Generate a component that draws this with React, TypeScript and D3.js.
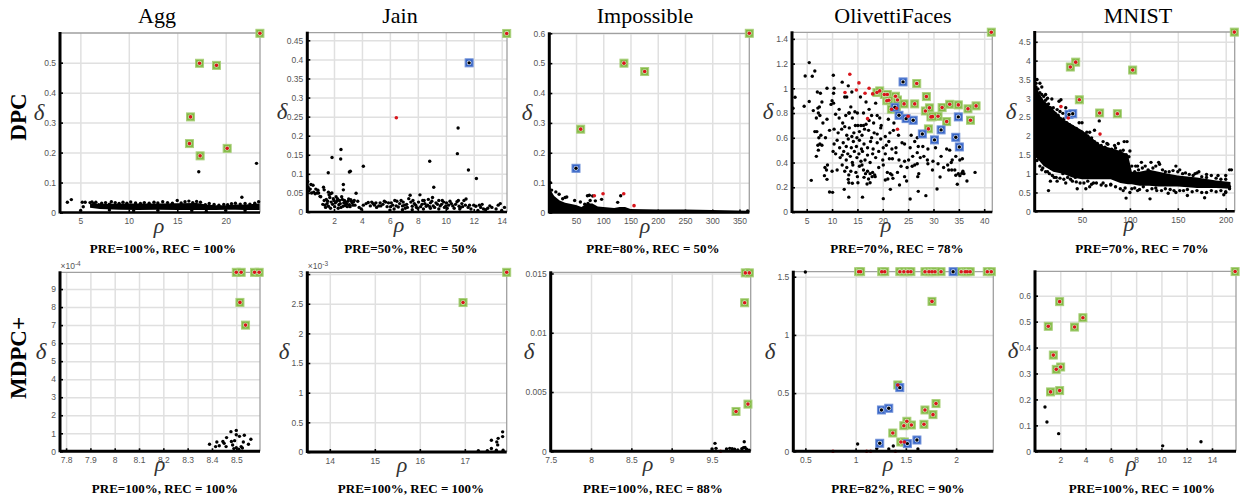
import React, { useEffect, useRef } from 'react';
import * as d3 from 'd3';

type Pt = [number, number];

const titles = ['Agg', 'Jain', 'Impossible', 'OlivettiFaces', 'MNIST'];
const rowLabels = ['DPC', 'MDPC+'];

// --- DPC row ---
const aggDpcGreen: Pt[] = [[23.53, 0.598], [17.3, 0.498], [19.05, 0.491], [16.37, 0.319], [16.26, 0.23], [17.36, 0.189], [20.15, 0.214]];
const aggDpcBlack: Pt[] = [[17.22, 0.136], [23.18, 0.164], [21.67, 0.051], [3.66, 0.034], [4.07, 0.043], [5.03, 0.007], [5.3, 0.019], [5.2, 0.034], [5.5, 0.034], [6, 0.033], [6.2, 0.035], [6.4, 0.03], [6.6, 0.034], [6.9, 0.026], [7.2, 0.031], [7.6, 0.033], [8, 0.028], [8.2, 0.036], [8.6, 0.033], [9, 0.03], [9.4, 0.034], [9.8, 0.031], [10.2, 0.035], [10.7, 0.032], [11.2, 0.03], [11.6, 0.033], [12.1, 0.031], [12.6, 0.034], [13, 0.032], [13.5, 0.036], [14, 0.033], [14.5, 0.031], [15, 0.04], [15.4, 0.032], [15.8, 0.036], [16.2, 0.038], [16.6, 0.033], [17, 0.037], [17.4, 0.034], [17.9, 0.026], [18.3, 0.03], [18.8, 0.027], [19.3, 0.024], [19.8, 0.027], [20.2, 0.026], [20.6, 0.029], [21, 0.031], [21.5, 0.028], [22, 0.03], [22.5, 0.028], [23, 0.031], [23.4, 0.036], [8, 0.008], [10.5, 0.006], [13, 0.007], [16.5, 0.006], [18, 0.004], [20, 0.007], [22, 0.006]];
const aggDpcBandX = [6, 7, 9, 11, 13, 15, 17, 18, 19, 20, 21, 22, 23.5];
const aggDpcBandLow = [0.016, 0.012, 0.009, 0.008, 0.009, 0.008, 0.008, 0.008, 0.008, 0.009, 0.009, 0.008, 0.008];
const aggDpcBandHigh = [0.03, 0.028, 0.03, 0.03, 0.03, 0.031, 0.032, 0.027, 0.024, 0.024, 0.027, 0.027, 0.03];

const jainDpcGreen: Pt[] = [[14.36, 0.468]];
const jainDpcBlue: Pt[] = [[11.67, 0.391]];
const jainDpcRed: Pt[] = [[6.46, 0.247]];
const jainDpcBlack: Pt[] = [[10.88, 0.22], [10.83, 0.153], [11.62, 0.11], [12.19, 0.088], [8.85, 0.133], [9.14, 0.065], [2.5, 0.164], [2.48, 0.139], [1.86, 0.143], [1.59, 0.103], [4.1, 0.12], [3.17, 0.107], [3.1, 0.105], [2.67, 0.072], [2.67, 0.058], [3.58, 0.049],
  [0.12, 0.08], [0.15, 0.065], [0.2, 0.055], [0.3, 0.06], [0.35, 0.072], [0.4, 0.05], [0.5, 0.07], [0.55, 0.052], [0.65, 0.048], [0.7, 0.06], [0.8, 0.05], [0.9, 0.05], [1.0, 0.041], [0.85, 0.057], [1.25, 0.065], [1.3, 0.058], [1.6, 0.052], [1.75, 0.048], [1.85, 0.05],
  [1.05, 0.04], [1.2, 0.02], [1.35, 0.018], [1.45, 0.033], [1.5, 0.022], [1.6, 0.015], [1.7, 0.038], [1.8, 0.026], [1.9, 0.02], [2, 0.03], [2.05, 0.014], [2.1, 0.024], [2.15, 0.04], [2.25, 0.035], [2.35, 0.019], [2.4, 0.03], [2.5, 0.012], [2.6, 0.033], [2.7, 0.024], [2.8, 0.017], [2.9, 0.021], [3, 0.028], [3.1, 0.019], [3.2, 0.032], [3.3, 0.024], [3.4, 0.027], [3.5, 0.018], [3.7, 0.028], [3.8, 0.012], [3.95, 0.008], [4.1, 0.018], [4.3, 0.022],
  [4.6, 0.016], [4.7, 0.026], [4.9, 0.018], [5, 0.024], [5.2, 0.016], [5.3, 0.024], [5.5, 0.02], [5.7, 0.026], [5.9, 0.024], [6, 0.005], [6.05, 0.014], [6.2, 0.018], [6.3, 0.008], [6.5, 0.028], [6.6, 0.013], [6.8, 0.03], [6.9, 0.016], [7.1, 0.01], [7.2, 0.02], [7.35, 0.035], [7.45, 0.044], [7.6, 0.015], [7.75, 0.022], [7.9, 0.012], [8.05, 0.026], [8.15, 0.045], [8.3, 0.02], [8.45, 0.03], [8.6, 0.015], [8.75, 0.033], [8.9, 0.024], [9.05, 0.038], [9.2, 0.012], [9.4, 0.02], [9.6, 0.016], [9.75, 0.03], [9.9, 0.012], [10.05, 0.024], [10.2, 0.018], [10.4, 0.022], [10.6, 0.01], [10.8, 0.027], [10.95, 0.015], [11.15, 0.022], [11.3, 0.03], [11.45, 0.034], [11.6, 0.012], [11.8, 0.008], [12, 0.018], [12.15, 0.015], [12.3, 0.004], [12.5, 0.012], [12.7, 0.008], [13, 0.01], [13.15, 0.016], [13.3, 0.012], [13.6, 0.008], [13.75, 0.018], [13.9, 0.022], [14, 0.004], [14.2, 0.012],
  [6.9, 0.006], [7.6, 0.006], [8.4, 0.008], [8.9, 0.01], [9.5, 0.008], [10.1, 0.01], [11, 0.008],
  [1.3, 0.03], [1.4, 0.012], [1.55, 0.028], [1.65, 0.045], [1.75, 0.01], [1.95, 0.035], [2.2, 0.028], [2.3, 0.01], [2.45, 0.022], [2.55, 0.04], [2.65, 0.015], [2.75, 0.03], [2.85, 0.026], [2.95, 0.014], [3.05, 0.034], [3.15, 0.014], [3.25, 0.028], [3.35, 0.018], [3.45, 0.03], [4.45, 0.025], [4.8, 0.022], [5.05, 0.012], [5.35, 0.016], [5.6, 0.028], [5.8, 0.014], [6.1, 0.024], [6.35, 0.03], [6.45, 0.016], [6.7, 0.022], [6.95, 0.026], [7.05, 0.018], [7.25, 0.012], [7.5, 0.026], [7.65, 0.03], [7.85, 0.018], [8, 0.01], [8.2, 0.014], [8.35, 0.03], [8.5, 0.022], [8.7, 0.018], [8.85, 0.014], [9, 0.028], [9.1, 0.016], [9.3, 0.024], [9.5, 0.03], [9.7, 0.02], [9.85, 0.026], [10, 0.016], [10.3, 0.028], [10.5, 0.016], [10.7, 0.02], [10.9, 0.03], [11.05, 0.012], [11.2, 0.014], [11.4, 0.018], [11.7, 0.018], [12.4, 0.018], [12.6, 0.02], [12.85, 0.006]];

const impDpcGreen: Pt[] = [[368, 0.6], [138, 0.5], [176, 0.472], [58.6, 0.279]];
const impDpcBlue: Pt[] = [[50, 0.148]];
const impDpcRed: Pt[] = [[83.7, 0.056], [99.6, 0.063], [137.6, 0.063], [156.5, 0.023]];
const impDpcBlack: Pt[] = [[25.5, 0.046], [30, 0.05], [33, 0.052], [74.5, 0.058], [71, 0.056], [80.6, 0.055], [85.5, 0.039], [97, 0.044], [132, 0.056], [126.5, 0.034], [58, 0.035], [47.5, 0.04], [13, 0.069], [19, 0.061], [5.3, 0.075], [76, 0.04], [72, 0.03], [66, 0.028], [3, 0.1], [365, 0.005]];
const impDpcBandX = [1, 5, 10, 20, 30, 50, 60, 70, 80, 90, 100, 120, 130, 140, 150, 200, 250, 300, 368];
const impDpcBandLow = [0, 0, 0, 0, 0, 0, 0, 0, 0, 0, 0, 0, 0, 0, 0, 0, 0, 0, 0];
const impDpcBandHigh = [0.1, 0.07, 0.055, 0.04, 0.033, 0.025, 0.018, 0.03, 0.03, 0.02, 0.018, 0.015, 0.018, 0.018, 0.012, 0.01, 0.01, 0.008, 0.006];

const oliDpcGreen: Pt[] = [[41.4, 1.454], [26.7, 1.039], [28.6, 0.933], [18.85, 0.966], [19.4, 0.979], [20.3, 0.95], [20.9, 0.95], [22.5, 0.936], [22.9, 0.906], [20.8, 0.9], [21.2, 0.904], [21.7, 0.831], [22.7, 0.839], [24.2, 0.874], [26.3, 0.874], [28.4, 0.817], [29.2, 0.842], [31.7, 0.844], [33.2, 0.871], [34.9, 0.866], [36.8, 0.834], [38.4, 0.858], [37.3, 0.742], [32.6, 0.731], [30.9, 0.774], [29.5, 0.769], [29.8, 0.771], [29, 0.672]];
const oliDpcBlue: Pt[] = [[24, 1.052], [23.2, 0.782], [24.6, 0.755], [26, 0.742], [27.8, 0.631], [30.2, 0.583], [31.5, 0.664], [34.4, 0.604], [35.1, 0.526], [34.9, 0.769], [22.4, 0.847]];
const oliDpcRed: Pt[] = [[13.5, 1.114], [15.3, 1.044], [12.55, 0.966], [14.8, 0.987], [16.5, 0.96], [17.3, 1.0], [18, 0.955], [17, 0.755], [22.9, 0.669], [25, 0.774]];
const oliDpcBlack: Pt[] = [[5.5, 1.208], [6.6, 1.14], [4.7, 1.1], [6.1, 1.098], [10.25, 1.106], [2.7, 0.928], [2.3, 0.839], [4.5, 0.855], [5.5, 0.893],
  [13.3, 0.12], [16, 0.12], [20.1, 0.108], [25.4, 0.105], [27, 0.167], [28.5, 0.132], [30.7, 0.186], [9.5, 0.162], [10.1, 0.159], [12.4, 0.183], [21.5, 0.183],
  [5.9, 0.256], [8.5, 0.294], [9, 0.264], [13.3, 0.237], [14, 0.232], [15.1, 0.237], [16.9, 0.227], [17.5, 0.237], [13.2, 0.264], [15, 0.286], [13.3, 0.3], [16.3, 0.28], [17.2, 0.267], [17.9, 0.286], [18.5, 0.286], [20.5, 0.259], [21, 0.267], [21.8, 0.3], [22, 0.272], [23.3, 0.218], [24.3, 0.286], [24.7, 0.251], [26.9, 0.286], [31.3, 0.283], [34.7, 0.224], [36.6, 0.251], [34.4, 0.297], [35.2, 0.294], [35.6, 0.313],
  [8.9, 0.34], [8.6, 0.36], [9.1, 0.38], [10, 0.33], [11, 0.34], [12, 0.38], [12.5, 0.33], [12.9, 0.36], [13.7, 0.33], [14.1, 0.38], [14.7, 0.32], [15.4, 0.37], [15.9, 0.38], [16.2, 0.34], [16.6, 0.31], [17, 0.33], [17.5, 0.31], [18, 0.32], [18.4, 0.3], [19.2, 0.36], [20.1, 0.38], [20.9, 0.32], [21.5, 0.31], [22.9, 0.32], [23.6, 0.37], [24.8, 0.36], [25.8, 0.37], [26.3, 0.38], [26.8, 0.39], [27.1, 0.31], [28.9, 0.39], [29.8, 0.34], [30.9, 0.39], [32, 0.36], [33, 0.34], [33.6, 0.34], [34.2, 0.34], [34.9, 0.31], [35.8, 0.33], [36, 0.31], [38.2, 0.32], [33.5, 0.4], [32.8, 0.38],
  [6.9, 0.45], [7.3, 0.5], [10.2, 0.49], [10.7, 0.47], [11.6, 0.44], [12, 0.46], [12.3, 0.49], [12.8, 0.42], [13.1, 0.47], [13.6, 0.45], [14, 0.4], [14.4, 0.49], [14.9, 0.44], [15.3, 0.47], [15.7, 0.41], [16, 0.49], [16.5, 0.42], [17, 0.46], [17.5, 0.4], [18, 0.47], [18.6, 0.44], [19.2, 0.49], [20, 0.42], [20.5, 0.47], [21.3, 0.43], [21.9, 0.43], [22.6, 0.48], [23.2, 0.42], [24.3, 0.41], [25.1, 0.42], [25.9, 0.45], [26.8, 0.48], [27.4, 0.44], [28.1, 0.45], [28.8, 0.42], [29.9, 0.41], [31.5, 0.45], [33.7, 0.42], [34.4, 0.45], [35.2, 0.42], [35.7, 0.43],
  [7.2, 0.54], [7.6, 0.55], [8, 0.54], [10.4, 0.55], [11, 0.58], [11.5, 0.52], [12.2, 0.56], [12.8, 0.53], [13.2, 0.59], [13.8, 0.52], [14.2, 0.57], [14.8, 0.53], [15.4, 0.58], [15.8, 0.51], [16.3, 0.55], [17, 0.52], [17.6, 0.57], [18.1, 0.51], [18.9, 0.56], [19.6, 0.59], [20.1, 0.52], [20.7, 0.54], [21.2, 0.57], [21.8, 0.51], [22.6, 0.52], [23.8, 0.56], [24.3, 0.55], [25.4, 0.52], [26.3, 0.57], [27, 0.53], [27.9, 0.53], [28.9, 0.51], [30.4, 0.52], [32.6, 0.51], [33.2, 0.5],
  [6.6, 0.65], [7, 0.65], [7.4, 0.6], [7.8, 0.62], [8.7, 0.6], [9.5, 0.66], [10.4, 0.67], [11.2, 0.64], [11.9, 0.67], [12.5, 0.69], [12.9, 0.62], [13.4, 0.68], [13.9, 0.61], [14.3, 0.64], [14.9, 0.6], [15.4, 0.65], [15.9, 0.62], [16.4, 0.67], [17.2, 0.66], [17.8, 0.6], [18.3, 0.64], [18.9, 0.63], [19.6, 0.68], [20.5, 0.61], [21.4, 0.64], [22.1, 0.66], [23.1, 0.62], [25.6, 0.62], [26.8, 0.6],
  [6.9, 0.76], [7.3, 0.8], [7.6, 0.78], [8.2, 0.72], [9, 0.75], [10.7, 0.79], [11.4, 0.76], [12.1, 0.72], [12.7, 0.78], [13.4, 0.8], [14, 0.76], [14.6, 0.7], [15.1, 0.7], [15.7, 0.7], [16.2, 0.7], [16.7, 0.71], [17.3, 0.74], [18.2, 0.72], [18.9, 0.78], [19.7, 0.7], [21.1, 0.75], [22.2, 0.72], [24.2, 0.74],
  [6.3, 0.82], [7.2, 0.84], [7.5, 0.85], [8, 0.89], [9.8, 0.87], [10, 0.9], [10.3, 0.88], [11.4, 0.83], [12.5, 0.93], [13.3, 0.8], [13.7, 0.85], [14.5, 0.81], [15, 0.8], [15.6, 0.93], [16.2, 0.8], [16.7, 0.89], [17.3, 0.83], [17.8, 0.78], [18.6, 0.88], [19.4, 0.76], [7.1, 0.97], [7.7, 0.96], [9, 1], [10.4, 1], [12, 1.05], [13.2, 1.02], [13.9, 0.97], [12.9, 0.93], [10.3, 0.96]];

const mnistDpcGreen: Pt[] = [[209, 4.757], [43.4, 3.96], [37.8, 3.83], [102.9, 3.75], [47.2, 2.96], [68.4, 2.61], [86.9, 2.59]];
const mnistDpcBlue: Pt[] = [[36.4, 2.57], [40.3, 2.59]];
const mnistDpcRed: Pt[] = [[28, 2.78], [35.7, 2.475], [68.8, 2.05]];
const mnistDpcBlack: Pt[] = [[18.5, 2.98], [26, 2.92], [28, 2.96], [24, 2.7], [27, 2.65], [30, 2.6], [33, 2.75], [41, 2.6], [47, 2.35], [50, 2.35], [55, 2.1], [58, 2.1], [63, 2.15], [68, 2.4], [72, 1.85], [76, 1.8], [84, 1.75], [88, 1.8], [94, 1.85], [97, 1.85], [100, 1.6], [3, 3.5], [2, 3.3], [6, 3.4], [8, 3.3], [12, 3.1], [14, 3], [8, 1.1], [14, 1.05], [15, 0.55], [17, 0.8], [21, 0.9], [24, 0.8], [30, 1], [33, 0.75], [38, 0.85], [43, 0.9], [45, 0.6], [54, 0.6], [58, 0.65], [62, 0.75], [72, 0.75], [80, 0.72], [93, 0.55], [96, 0.35], [100, 0.5], [108, 0.55], [121, 0.33], [128, 0.55], [140, 0.48], [148, 0.5], [160, 0.42], [178, 0.36], [198, 0.44], [200, 0.5], [204, 1.1], [206, 1.1], [200, 0.95], [192, 0.95], [180, 0.98], [172, 1.05], [168, 1], [152, 1.1], [148, 1.2], [130, 1.3], [122, 1.3], [112, 1.3], [108, 1.2], [106, 1.2], [201, 0.7], [204, 0.6],
  [2, 3.4], [4, 3.25], [6, 3.15], [8, 3.1], [10, 3.05], [12, 2.95], [15, 2.85], [17, 2.75], [20, 2.75], [22, 2.6], [25, 2.55], [28, 2.45], [31, 2.45], [34, 2.35], [37, 2.3], [40, 2.25], [44, 2.2], [46, 2.1], [50, 2.1], [53, 2.05], [56, 2], [60, 1.95], [63, 1.85], [66, 1.8], [70, 1.75], [74, 1.7], [77, 1.78], [81, 1.65], [85, 1.68], [90, 1.6], [93, 1.62], [96, 1.5], [99, 1.45],
  [3, 1.35], [6, 1.2], [9, 1.15], [12, 1.05], [16, 1], [19, 0.95], [23, 0.9], [27, 0.88], [31, 0.85], [35, 0.9], [40, 0.8], [44, 0.78], [48, 0.75], [52, 0.75], [56, 0.8], [60, 0.72], [65, 0.75], [70, 0.7], [75, 0.68], [80, 0.7], [85, 0.65], [90, 0.6], [95, 0.62],
  [102, 1.2], [105, 1.05], [109, 1.1], [113, 1.15], [116, 1.2], [119, 1.1], [124, 1.15], [127, 1.2], [131, 1.25], [134, 1.1], [137, 1.05], [141, 1.05], [145, 1.08], [150, 1.05], [155, 1], [158, 1.02], [162, 0.98], [166, 0.95], [170, 1.02], [175, 0.92], [180, 0.9], [185, 0.95], [190, 0.88], [195, 0.85], [200, 0.85],
  [102, 0.6], [105, 0.62], [110, 0.58], [114, 0.65], [118, 0.55], [123, 0.6], [127, 0.62], [133, 0.55], [137, 0.6], [142, 0.58], [146, 0.55], [152, 0.55], [156, 0.55], [160, 0.58], [165, 0.52], [170, 0.55], [175, 0.5], [180, 0.5], [185, 0.55], [190, 0.52], [195, 0.55], [200, 0.52], [204, 0.65]];
const mnistDpcBandX = [1, 5, 10, 20, 30, 40, 50, 60, 70, 80, 90, 98, 102, 110, 120, 130, 140, 150, 170, 190, 205];
const mnistDpcBandLow = [1.45, 1.35, 1.2, 1.05, 1, 0.9, 0.85, 0.85, 0.85, 0.85, 0.75, 0.72, 0.72, 0.68, 0.68, 0.66, 0.66, 0.66, 0.62, 0.62, 0.6];
const mnistDpcBandHigh = [3.4, 3.15, 2.95, 2.7, 2.45, 2.3, 2.15, 1.95, 1.75, 1.68, 1.6, 1.5, 1.05, 1.05, 1.1, 1.05, 1, 0.95, 0.9, 0.82, 0.78];

// --- MDPC+ row ---
const aggPlusGreen: Pt[] = [[8.5, 9.93], [8.52, 9.93], [8.575, 9.93], [8.594, 9.93], [8.515, 8.26], [8.538, 7.0]];
const aggPlusBlack: Pt[] = [[8.39, 0.39], [8.42, 0.52], [8.415, 0.26], [8.43, 0.31], [8.445, 0.54], [8.45, 0.44], [8.46, 0.76], [8.458, 0.26], [8.478, 1.09], [8.5, 1.16], [8.5, 0.92], [8.513, 0.83], [8.533, 0.89], [8.493, 0.59], [8.48, 0.54], [8.485, 0.35], [8.529, 0.52], [8.56, 0.67], [8.55, 0.39], [8.52, 0.26], [8.49, 0.15], [8.5, 0.2], [8.51, 0.12], [8.525, 0.18]];

const jainPlusGreen: Pt[] = [[17.93, 3.03], [16.96, 2.52]];
const jainPlusBlack: Pt[] = [[17.59, 0.197], [17.59, 0.06], [17.71, 0.17], [17.73, 0.12], [17.74, 0.23], [17.84, 0.26], [17.84, 0.34], [17.3, 0.02], [17.5, 0.02], [17.7, 0.03], [17.85, 0.03]];

const impPlusGreen: Pt[] = [[9.913, 0.01505], [9.963, 0.01505], [9.905, 0.01253], [9.946, 0.00398], [9.798, 0.00336]];
const impPlusRed: Pt[] = [[9.607, 0]];
const impPlusBlack: Pt[] = [[9.537, 0.00067], [9.55, 0.00025], [9.5, 0.0002], [9.9, 0.0008], [9.68, 0.0002], [9.72, 0.00025], [9.75, 0.00022], [9.78, 0.00018], [9.82, 0.00012], [9.87, 0.00022], [9.89, 0.0003], [9.91, 0.00032], [9.93, 0.00018], [9.96, 0.0001]];

const oliPlusGreen: Pt[] = [[1.03, 1.543], [1.05, 1.543], [1.26, 1.543], [1.29, 1.543], [1.44, 1.543], [1.48, 1.543], [1.52, 1.543], [1.55, 1.543], [1.69, 1.543], [1.73, 1.543], [1.76, 1.543], [1.79, 1.543], [1.85, 1.543], [2.05, 1.543], [2.09, 1.543], [2.11, 1.543], [2.14, 1.543], [2.31, 1.543], [2.35, 1.543], [1.76, 1.288], [1.42, 0.57], [1.8, 0.41], [1.69, 0.355], [1.77, 0.315], [1.68, 0.232], [1.51, 0.258], [1.48, 0.22], [1.555, 0.226], [1.37, 0.157], [1.45, 0.08], [1.485, 0.08]];
const oliPlusBlue: Pt[] = [[1.97, 1.543], [1.44, 0.547], [1.257, 0.355], [1.33, 0.37], [1.24, 0.069], [1.515, 0.066], [1.61, 0.097]];
const oliPlusRed: Pt[] = [[0.775, 0], [1.11, 0], [1.15, 0], [1.396, 0]];
const oliPlusBlack: Pt[] = [[0.5, 1.54], [1.02, 0.063], [1.375, 0.046], [1.21, 0.023], [1.33, 0.02], [1.62, 0.02]];

const mnistPlusGreen: Pt[] = [[15.83, 0.693], [1.95, 0.577], [3.79, 0.515], [3.13, 0.479], [1.05, 0.482], [1.45, 0.371], [2.03, 0.325], [1.68, 0.316], [1.95, 0.234], [1.23, 0.229]];
const mnistPlusBlack: Pt[] = [[0.79, 0.171], [0.945, 0.113], [1.87, 0.068], [10.1, 0.021], [13.13, 0.037]];

const captions = [
  ['PRE=100%, REC = 100%', 'PRE=50%, REC = 50%', 'PRE=80%, REC = 50%', 'PRE=70%, REC = 78%', 'PRE=70%, REC = 70%'],
  ['PRE=100%, REC = 100%', 'PRE=100%, REC = 100%', 'PRE=100%, REC = 88%', 'PRE=82%, REC = 90%', 'PRE=100%, REC = 100%'],
];

const xTickLists = [
  [[5, 10, 15, 20], [2, 4, 6, 8, 10, 12, 14], [50, 100, 150, 200, 250, 300, 350], [5, 10, 15, 20, 25, 30, 35, 40], [50, 100, 150, 200]],
  [[7.8, 7.9, 8, 8.1, 8.2, 8.3, 8.4, 8.5], [14, 15, 16, 17], [7.5, 8, 8.5, 9, 9.5], [0.5, 1, 1.5, 2], [2, 4, 6, 8, 10, 12, 14]],
];
const yTickLists = [
  [[0, 0.1, 0.2, 0.3, 0.4, 0.5], [0, 0.05, 0.1, 0.15, 0.2, 0.25, 0.3, 0.35, 0.4, 0.45], [0, 0.1, 0.2, 0.3, 0.4, 0.5, 0.6], [0, 0.2, 0.4, 0.6, 0.8, 1, 1.2, 1.4], [0, 0.5, 1, 1.5, 2, 2.5, 3, 3.5, 4, 4.5]],
  [[0, 1, 2, 3, 4, 5, 6, 7, 8, 9], [0, 0.5, 1, 1.5, 2, 2.5, 3], [0, 0.005, 0.01, 0.015], [0, 0.5, 1, 1.5], [0, 0.1, 0.2, 0.3, 0.4, 0.5, 0.6]],
];

// layout of each panel: left, right, top, bottom of the plot box, then axis domains
const boxes = [
  [[60, 260, 33, 212.5, 2.9, 23.54, 0, 0.599], [307.3, 507, 32.7, 212, 0.09, 14.38, 0, 0.47], [549.3, 749.3, 33.3, 212.5, 1, 368, 0, 0.6], [792, 992.3, 32.3, 212, 2.1, 41.6, 0, 1.453], [1034.7, 1234.7, 32, 211.3, 0.6, 209.4, 0, 4.76]],
  [[60, 260, 272.3, 451.3, 7.775, 8.5975, 0, 9.93], [307.3, 506.7, 272.3, 452, 13.5, 17.93, 0, 3.03], [550.7, 750.7, 272.3, 451.3, 7.5, 9.98, 0, 0.0151], [793.3, 993.3, 271.7, 451.3, 0.38, 2.37, 0, 1.543], [1035, 1236, 271.3, 451.3, 0, 15.9, 0, 0.694]],
];
const titleX = [157, 400, 645, 893, 1138];
const deltaX = [[39, 282, 527, 768, 1011], [41, 284, 529, 770, 1013]];
const rhoX = [[159, 399, 645, 886, 1129], [160, 402, 648, 888, 1131]];
const captionX = [[163, 411, 653, 897, 1142], [165, 411, 653, 898, 1142]];
const exponents: (string | null)[] = ['-4', '-3', null, null, null];

type Series = { black?: Pt[]; green?: Pt[]; blue?: Pt[]; red?: Pt[]; bandX?: number[]; bandLow?: number[]; bandHigh?: number[] };
const series: Series[][] = [
  [
    { black: aggDpcBlack, green: aggDpcGreen, bandX: aggDpcBandX, bandLow: aggDpcBandLow, bandHigh: aggDpcBandHigh },
    { black: jainDpcBlack, green: jainDpcGreen, blue: jainDpcBlue, red: jainDpcRed },
    { black: impDpcBlack, green: impDpcGreen, blue: impDpcBlue, red: impDpcRed, bandX: impDpcBandX, bandLow: impDpcBandLow, bandHigh: impDpcBandHigh },
    { black: oliDpcBlack, green: oliDpcGreen, blue: oliDpcBlue, red: oliDpcRed },
    { black: mnistDpcBlack, green: mnistDpcGreen, blue: mnistDpcBlue, red: mnistDpcRed, bandX: mnistDpcBandX, bandLow: mnistDpcBandLow, bandHigh: mnistDpcBandHigh },
  ],
  [
    { black: aggPlusBlack, green: aggPlusGreen },
    { black: jainPlusBlack, green: jainPlusGreen },
    { black: impPlusBlack, green: impPlusGreen, red: impPlusRed },
    { black: oliPlusBlack, green: oliPlusGreen, blue: oliPlusBlue, red: oliPlusRed },
    { black: mnistPlusBlack, green: mnistPlusGreen },
  ],
];

const SERIF = '"Liberation Serif", serif';
const SANS = '"Liberation Sans", sans-serif';

function drawPanel(root: d3.Selection<SVGSVGElement, unknown, null, undefined>, row: number, col: number) {
  const [l, r, t, b, x0, x1, y0, y1] = boxes[row][col];
  const s = series[row][col];
  const x = d3.scaleLinear().domain([x0, x1]).range([l, r]);
  const y = d3.scaleLinear().domain([y0, y1]).range([b, t]);
  const g = root.append('g');

  // grid
  const gridX = g.append('g').attr('transform', `translate(0,${b})`)
    .call(d3.axisBottom(x).tickValues(xTickLists[row][col]).tickSize(t - b).tickFormat(() => ''));
  const gridY = g.append('g').attr('transform', `translate(${l},0)`)
    .call(d3.axisLeft(y).tickValues(yTickLists[row][col]).tickSize(l - r).tickFormat(() => ''));
  [gridX, gridY].forEach(a => {
    a.select('.domain').remove();
    a.selectAll('line').attr('stroke', '#e0e0e0').attr('stroke-width', 1.5);
  });

  // top and right box lines
  g.append('path').attr('d', `M${l},${t}H${r}V${b}`).attr('fill', 'none').attr('stroke', '#a0a0a0').attr('stroke-width', 1.3);

  // dense clouds
  if (s.bandX) {
    const area = d3.area<number>()
      .x(d => x(d))
      .y0((_, i) => y(s.bandLow![i]))
      .y1((_, i) => y(s.bandHigh![i]));
    g.append('path').attr('d', area(s.bandX)).attr('fill', '#000');
  }

  g.selectAll('circle.black').data(s.black || []).enter().append('circle').attr('class', 'black')
    .attr('cx', d => x(d[0])).attr('cy', d => y(d[1])).attr('r', 1.7).attr('fill', '#000');

  // marked points
  const square = (data: Pt[], fill: string, edge: string, size: number) => {
    g.selectAll(null).data(data).enter().append('rect')
      .attr('x', d => x(d[0]) - size / 2).attr('y', d => y(d[1]) - size / 2)
      .attr('width', size).attr('height', size)
      .attr('fill', fill).attr('stroke', edge).attr('stroke-width', 1);
  };
  const dot = (data: Pt[], fill: string, r: number) => {
    g.selectAll(null).data(data).enter().append('circle')
      .attr('cx', d => x(d[0])).attr('cy', d => y(d[1])).attr('r', r).attr('fill', fill);
  };
  square(s.green || [], '#84ba46', '#a9d07c', 8);
  dot(s.green || [], '#d9ebc4', 2.4);
  square(s.blue || [], '#3866c6', '#6f90d8', 8);
  dot(s.blue || [], '#dfe7f7', 2.4);
  dot(s.blue || [], '#000', 1.7);
  dot(s.green || [], '#d8161c', 1.8);
  dot(s.red || [], '#d8161c', 1.8);

  // axes
  const axX = g.append('g').attr('transform', `translate(0,${b})`)
    .call(d3.axisBottom(x).tickValues(xTickLists[row][col]).tickSize(-3).tickPadding(5.5).tickFormat(d => String(d)));
  const axY = g.append('g').attr('transform', `translate(${l},0)`)
    .call(d3.axisLeft(y).tickValues(yTickLists[row][col]).tickSize(-3).tickPadding(4).tickFormat(d => String(d)));
  [axX, axY].forEach(a => {
    a.select('.domain').remove();
    a.selectAll('line').attr('stroke', '#000').attr('stroke-width', 1.6);
    a.selectAll('text').attr('fill', '#555').attr('font-family', SANS).attr('font-size', 8.5);
  });
  g.append('line').attr('x1', l).attr('x2', r).attr('y1', b).attr('y2', b).attr('stroke', '#000').attr('stroke-width', row === 0 ? 2.4 : 3);
  g.append('line').attr('x1', l).attr('x2', l).attr('y1', t - 1).attr('y2', b + 1).attr('stroke', '#000').attr('stroke-width', 3);

  // labels
  g.append('text').text('δ').attr('x', deltaX[row][col]).attr('y', (t + b) / 2 - 3)
    .attr('text-anchor', 'middle').attr('font-family', SERIF).attr('font-style', 'italic')
    .attr('font-size', 23).attr('fill', '#333');
  g.append('text').text('ρ').attr('x', rhoX[row][col]).attr('y', b + 20)
    .attr('text-anchor', 'middle').attr('font-family', SERIF).attr('font-style', 'italic')
    .attr('font-size', 22).attr('fill', '#333');
  g.append('text').text(captions[row][col]).attr('x', captionX[row][col]).attr('y', row === 0 ? 252.5 : 492.5)
    .attr('text-anchor', 'middle').attr('font-family', SERIF).attr('font-weight', 'bold')
    .attr('font-size', 13).attr('fill', '#000');

  if (row === 1 && exponents[col]) {
    const e = g.append('text').attr('x', l + 0.5).attr('y', t - 3.5)
      .attr('font-family', SANS).attr('font-size', 8.5).attr('fill', '#555');
    e.append('tspan').text('×10');
    e.append('tspan').text(exponents[col]!).attr('font-size', 6.5).attr('dy', -3);
  }
}

export default function App() {
  const ref = useRef<SVGSVGElement>(null);

  useEffect(() => {
    if (!ref.current) return;
    const svg = d3.select(ref.current);
    svg.selectAll('*').remove();

    titles.forEach((name, i) => {
      svg.append('text').text(name).attr('x', titleX[i]).attr('y', 23)
        .attr('text-anchor', 'middle').attr('font-family', SERIF).attr('font-size', 22).attr('fill', '#000');
    });
    rowLabels.forEach((name, i) => {
      svg.append('text').text(name)
        .attr('transform', `translate(26,${i === 0 ? 117 : 358}) rotate(-90)`)
        .attr('text-anchor', 'middle').attr('font-family', SERIF).attr('font-weight', 'bold')
        .attr('font-size', 23).attr('fill', '#000');
    });
    boxes.forEach((rowBoxes, row) => rowBoxes.forEach((_, col) => drawPanel(svg as any, row, col)));
  }, []);

  return (
    <svg
      ref={ref}
      width={1249}
      height={500}
      style={{ position: 'absolute', left: 0, top: 0, display: 'block', background: '#fff' }}
    />
  );
}
